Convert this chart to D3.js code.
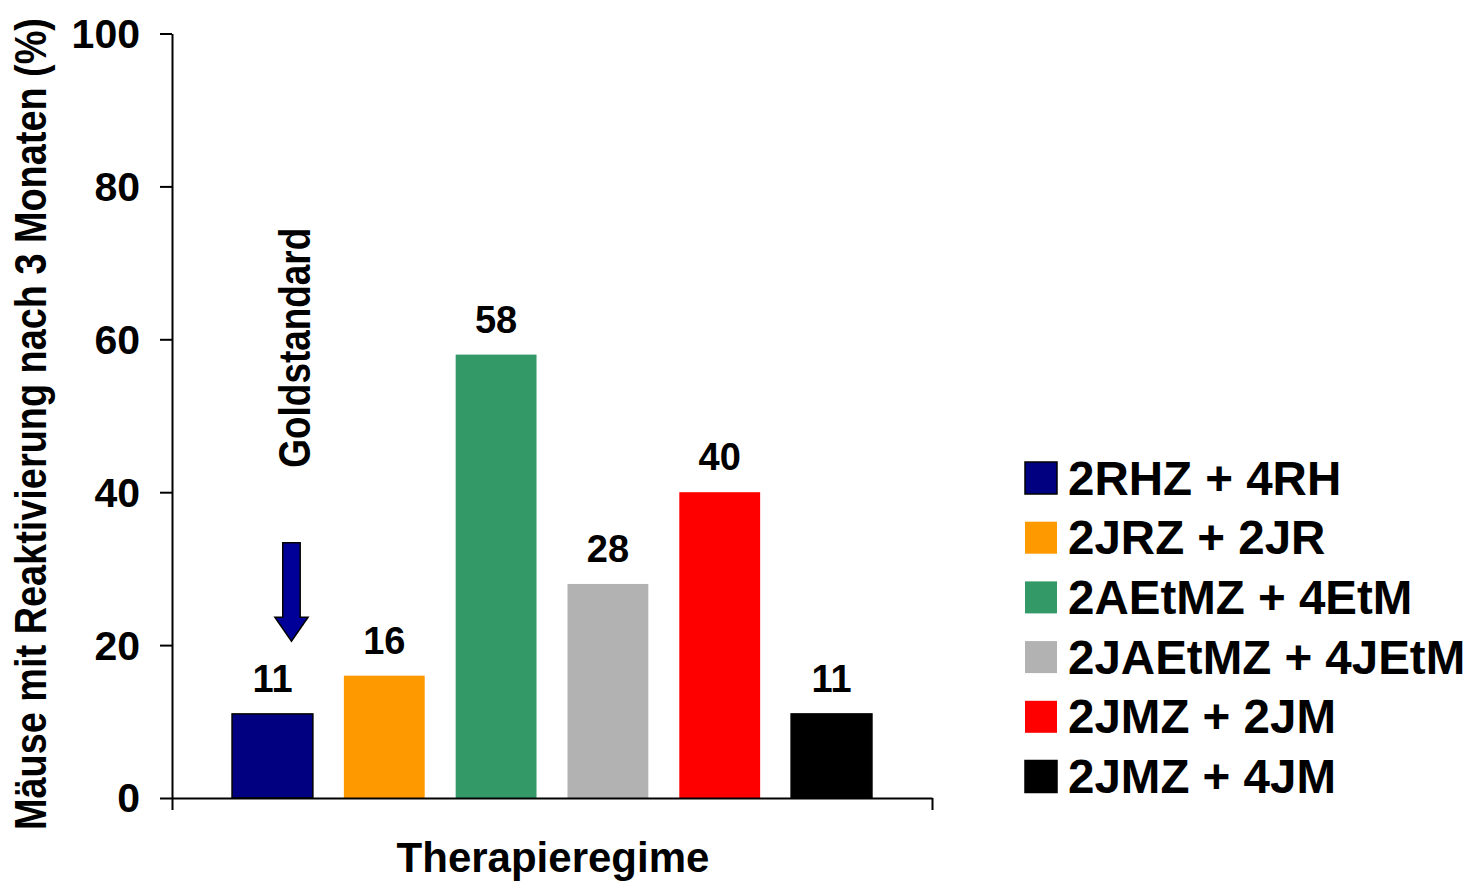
<!DOCTYPE html>
<html>
<head>
<meta charset="utf-8">
<script src="https://cdn.jsdelivr.net/npm/d3@7"></script>
<style>
  html, body { margin: 0; padding: 0; background: #fff; }
  svg { display: block; }
  text { font-family: "Liberation Sans", Arial, sans-serif; font-weight: bold; fill: #000; }
</style>
</head>
<body>
<svg id="chart" width="1477" height="881"></svg>
<script>
// Therapy regimens and the share of mice with reactivation after 3 months
const regimens = ["2RHZ + 4RH", "2JRZ + 2JR", "2AEtMZ + 4EtM", "2JAEtMZ + 4JEtM", "2JMZ + 2JM", "2JMZ + 4JM"];
const values = [11, 16, 58, 28, 40, 11];
const colors = ["#000080", "#FF9900", "#339966", "#B2B2B2", "#FF0000", "#000000"];
const outlined = [true, false, false, false, false, true];
const yTicks = [0, 20, 40, 60, 80, 100];
const yTitle = "Mäuse mit Reaktivierung nach 3 Monaten (%)";
const xTitle = "Therapieregime";
const noteText = "Goldstandard";
// annotation arrow pointing at the reference regimen (values in % units)
const noteArrow = { regimen: "2RHZ + 4RH", from: 33.4, to: 20.5 };

const svg = d3.select("#chart");
const plot = { left: 172, right: 932, top: 33.5, bottom: 798 };

const x = d3.scaleBand()
  .domain(regimens)
  .range([plot.left, plot.right])
  .paddingInner(0.277)
  .paddingOuter(0.537);

const y = d3.scaleLinear()
  .domain([0, 100])
  .range([plot.bottom, plot.top]);

// vertical text squeezed along its length to a target span
function verticalText(cx, cy, size, span, str) {
  const t = svg.append("text")
    .attr("text-anchor", "middle")
    .attr("font-size", size)
    .text(str);
  const natural = t.node().getComputedTextLength();
  const k = span / natural;
  t.attr("transform", `translate(${cx},${cy}) rotate(-90) scale(${k},1)`);
  return t;
}

// bars
svg.append("g").selectAll("rect")
  .data(regimens)
  .join("rect")
  .attr("x", d => x(d))
  .attr("y", (d, i) => y(values[i]))
  .attr("width", x.bandwidth())
  .attr("height", (d, i) => y(0) - y(values[i]))
  .attr("fill", (d, i) => colors[i])
  .attr("stroke", (d, i) => outlined[i] ? "#000" : "none")
  .attr("stroke-width", 1.5);

// value labels
svg.append("g").selectAll("text")
  .data(regimens)
  .join("text")
  .attr("x", d => x(d) + x.bandwidth() / 2)
  .attr("y", (d, i) => y(values[i]) - 22)
  .attr("text-anchor", "middle")
  .attr("font-size", 38)
  .text((d, i) => values[i]);

// y axis
const yAxis = svg.append("g")
  .attr("transform", `translate(${plot.left},0)`)
  .call(d3.axisLeft(y).tickValues(yTicks).tickSize(12).tickSizeOuter(0).tickPadding(20));
yAxis.selectAll("path, line").attr("stroke", "#000").attr("stroke-width", 2);
yAxis.selectAll("text")
  .attr("font-size", 41)
  .attr("font-family", "Liberation Sans, Arial, sans-serif")
  .attr("font-weight", "bold")
  .attr("fill", "#000")
  .attr("dy", "0.34em");

// x axis: baseline with boundary ticks at both ends
const xEdge = d3.scaleLinear().domain([0, 1]).range([plot.left, plot.right]);
const xAxis = svg.append("g")
  .attr("transform", `translate(0,${plot.bottom})`)
  .call(d3.axisBottom(xEdge).tickValues([0, 1]).tickSize(12).tickSizeOuter(0).tickFormat(""));
xAxis.selectAll("path, line").attr("stroke", "#000").attr("stroke-width", 2);

// axis titles
svg.append("text")
  .attr("x", (plot.left + plot.right) / 2 + 1)
  .attr("y", 872)
  .attr("text-anchor", "middle")
  .attr("font-size", 42)
  .text(xTitle);

verticalText(46, 424, 45, 812, yTitle);

// "Goldstandard" note with arrow
const ax = x(noteArrow.regimen) + x.bandwidth() / 2 + 19;
const yFrom = y(noteArrow.from), yTo = y(noteArrow.to);
const shaftHalf = 8.7, headHalf = 16.6, headLen = 24;
svg.append("path")
  .attr("d", d3.line()([
    [ax - shaftHalf, yFrom], [ax + shaftHalf, yFrom],
    [ax + shaftHalf, yTo - headLen], [ax + headHalf, yTo - headLen],
    [ax, yTo],
    [ax - headHalf, yTo - headLen], [ax - shaftHalf, yTo - headLen]
  ]) + "Z")
  .attr("fill", "#000099")
  .attr("stroke", "#000")
  .attr("stroke-width", 1.5)
  .attr("stroke-linejoin", "miter");

verticalText(ax + 18.5, y(58.9), 45, 240, noteText);

// legend
const legend = svg.append("g").attr("transform", "translate(1025,462)");
const rowStep = 59.7;
const item = legend.selectAll("g")
  .data(regimens)
  .join("g")
  .attr("transform", (d, i) => `translate(0,${i * rowStep})`);
item.append("rect")
  .attr("width", 32)
  .attr("height", 32)
  .attr("fill", (d, i) => colors[i])
  .attr("stroke", (d, i) => outlined[i] ? "#000" : "none")
  .attr("stroke-width", 1.5);
item.append("text")
  .attr("x", 43)
  .attr("y", 32.5)
  .attr("font-size", 47.5)
  .text(d => d);
</script>
</body>
</html>
